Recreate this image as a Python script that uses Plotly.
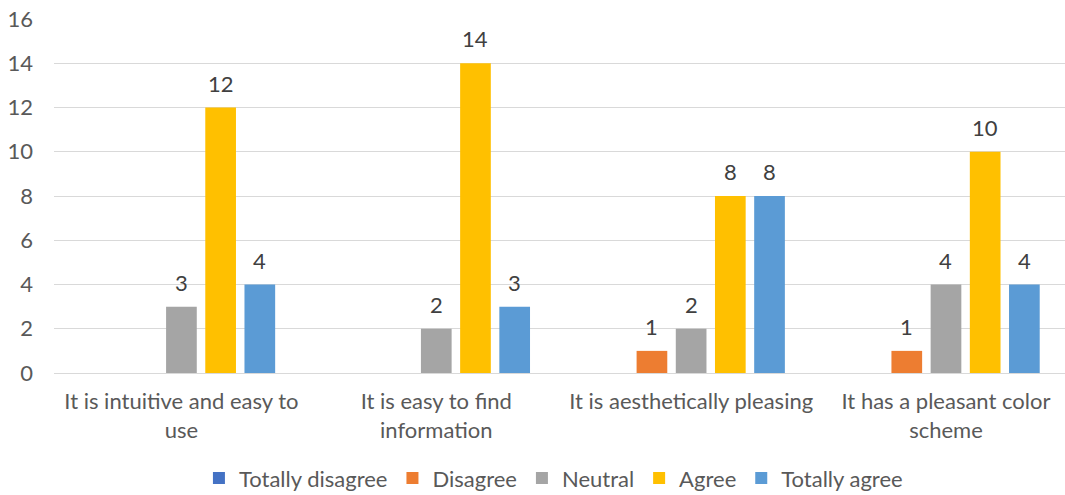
import plotly.graph_objects as go

# Survey statements (x categories)
statements = [
    "It is intuitive and easy to<br>use",
    "It is easy to find<br>information",
    "It is aesthetically pleasing",
    "It has a pleasant color<br>scheme",
]

# Response counts per answer option (None = no responses)
totally_disagree = [None, None, None, None]
disagree = [None, None, 1, 1]
neutral = [3, 2, 2, 4]
agree = [12, 14, 8, 10]
totally_agree = [4, 3, 8, 4]

series_names = ["Totally disagree", "Disagree", "Neutral", "Agree", "Totally agree"]
series_values = [totally_disagree, disagree, neutral, agree, totally_agree]
series_colors = ["#4472C4", "#ED7D31", "#A5A5A5", "#FFC000", "#5B9BD5"]

y_ticks = [0, 2, 4, 6, 8, 10, 12, 14, 16]

FONT = "Lato"
FS = 22
BARGAP = 0.231
GROUPGAP = 0.217

fig = go.Figure()
for name, vals, col in zip(series_names, series_values, series_colors):
    fig.add_trace(go.Bar(
        name=name,
        x=statements,
        y=vals,
        marker=dict(color=col, line=dict(width=0)),
    ))

# Value labels above each bar, offset to the bar's slot within the group
n = len(series_names)
slot = (1 - BARGAP) / n
for i, vals in enumerate(series_values):
    for j, v in enumerate(vals):
        if v is None:
            continue
        fig.add_annotation(
            x=j + (i - (n - 1) / 2) * slot,
            y=v,
            text=str(v),
            showarrow=False,
            yanchor="bottom",
            yshift=9,
            font=dict(family=FONT, size=FS, color="#404040"),
        )

fig.update_layout(
    width=1065,
    height=495,
    margin=dict(l=54, r=0, t=19, b=122, autoexpand=False),
    paper_bgcolor="white",
    plot_bgcolor="white",
    barmode="group",
    bargap=BARGAP,
    bargroupgap=GROUPGAP,
    font=dict(family=FONT, size=FS, color="#595959"),
    showlegend=True,
    legend=dict(
        orientation="h",
        x=0.494,
        xanchor="center",
        y=-0.297,
        yanchor="middle",
        font=dict(family=FONT, size=FS, color="#595959"),
        itemwidth=30,
    ),
    xaxis=dict(
        range=[-0.5, 3.467],
        showgrid=False,
        showline=True,
        linecolor="#d9d9d9",
        linewidth=1,
        ticks="",
        ticklabelstandoff=9,
        automargin=False,
        tickfont=dict(family=FONT, size=FS, color="#595959"),
    ),
    yaxis=dict(
        range=[0, 16],
        tickvals=y_ticks,
        showgrid=True,
        gridcolor="#d9d9d9",
        gridwidth=1,
        zeroline=False,
        showline=False,
        ticks="",
        ticklabelstandoff=20,
        automargin=False,
        tickfont=dict(family=FONT, size=FS, color="#595959"),
    ),
)

fig.write_html("out.html")
